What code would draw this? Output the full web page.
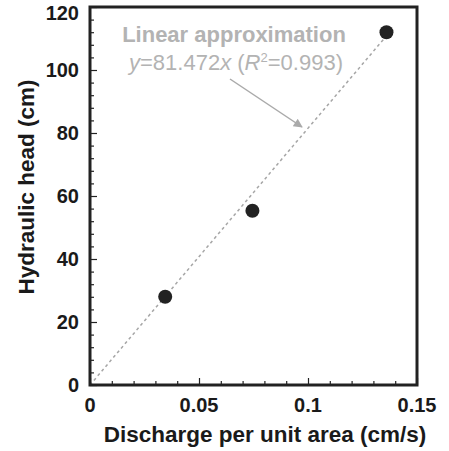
<!DOCTYPE html>
<html>
<head>
<meta charset="utf-8">
<script src="https://cdn.jsdelivr.net/npm/d3@7"></script>
<style>
  body { margin: 0; background: #fff; }
  svg { display: block; font-family: Arial, "Liberation Sans", sans-serif; }
</style>
</head>
<body>
<div id="chart"></div>
<script>
const width = 449;
const height = 451;
const margin = { top: 7, right: 32, bottom: 66, left: 90 };

const discharge = [0.0345, 0.0745, 0.136];
const head = [28, 55.3, 112];
// dotted guide as drawn in the picture (head per discharge, in plot units)
const fitSlope = 815;
const fitRange = [0, 0.1375];
const xTicks = [0, 0.05, 0.1, 0.15];
const yTicks = [0, 20, 40, 60, 80, 100, 120];
const fitTitle = "Linear approximation";

const xScale = d3
  .scaleLinear()
  .domain([0, 0.15])
  .range([margin.left, width - margin.right]);

const yScale = d3
  .scaleLinear()
  .domain([0, 120])
  .range([height - margin.bottom, margin.top]);

const svg = d3
  .select("#chart")
  .append("svg")
  .attr("width", width)
  .attr("height", height);

svg
  .append("defs")
  .append("marker")
  .attr("id", "arrow")
  .attr("viewBox", "0 0 10 10")
  .attr("refX", 9)
  .attr("refY", 5)
  .attr("markerWidth", 12)
  .attr("markerHeight", 9)
  .attr("markerUnits", "userSpaceOnUse")
  .attr("orient", "auto")
  .append("path")
  .attr("d", "M0,0 L10,5 L0,10 z")
  .attr("fill", "#aaa");

// minor + major ticks, pointing inward
const xAxis = d3
  .axisBottom(xScale)
  .tickValues(d3.range(0, 0.1501, 0.01))
  .tickSize(-4)
  .tickFormat("");
const yAxis = d3
  .axisLeft(yScale)
  .tickValues(d3.range(0, 120.1, 4))
  .tickSize(-4)
  .tickFormat("");

const gx = svg
  .append("g")
  .attr("transform", `translate(0,${height - margin.bottom})`)
  .call(xAxis);
const gy = svg
  .append("g")
  .attr("transform", `translate(${margin.left},0)`)
  .call(yAxis);

[gx, gy].forEach(g => {
  g.select(".domain").remove();
  g.selectAll("line").attr("stroke", "#222").attr("stroke-width", 1.2);
});
gx.selectAll(".tick line")
  .filter(d => Math.abs(d / 0.05 - Math.round(d / 0.05)) < 1e-6)
  .attr("y2", -7);
gy.selectAll(".tick line")
  .filter(d => d % 20 === 0)
  .attr("x2", 7);

svg
  .selectAll("text.xlabel")
  .data(xTicks)
  .enter()
  .append("text")
  .attr("class", "xlabel")
  .attr("x", d => xScale(d))
  .attr("y", 412)
  .attr("text-anchor", "middle")
  .style("font-size", "20px")
  .style("font-weight", "bold")
  .attr("fill", "#1a1a1a")
  .text(d => d3.format("~g")(d));

svg
  .selectAll("text.ylabel")
  .data(yTicks)
  .enter()
  .append("text")
  .attr("class", "ylabel")
  .attr("x", margin.left - 11)
  .attr("y", d => Math.max(yScale(d), 13))
  .attr("dy", "0.35em")
  .attr("text-anchor", "end")
  .style("font-size", "20px")
  .style("font-weight", "bold")
  .attr("fill", "#1a1a1a")
  .text(d => d);

// fit line
const line = d3
  .line()
  .x(d => xScale(d))
  .y(d => yScale(fitSlope * d));

svg
  .append("path")
  .datum(fitRange)
  .attr("d", line)
  .attr("fill", "none")
  .attr("stroke", "#a6a6a6")
  .attr("stroke-width", 1.5)
  .attr("stroke-dasharray", "3,3");

svg
  .selectAll("circle")
  .data(discharge)
  .enter()
  .append("circle")
  .attr("cx", d => xScale(d))
  .attr("cy", (d, i) => yScale(head[i]))
  .attr("r", 7)
  .attr("fill", "#222");

// frame
svg
  .append("rect")
  .attr("x", margin.left)
  .attr("y", margin.top)
  .attr("width", width - margin.left - margin.right)
  .attr("height", height - margin.top - margin.bottom)
  .attr("fill", "none")
  .attr("stroke", "#222")
  .attr("stroke-width", 3);

// annotation
svg
  .append("text")
  .attr("x", 234)
  .attr("y", 42)
  .attr("text-anchor", "middle")
  .style("font-size", "22px")
  .style("font-weight", "bold")
  .attr("fill", "#b3b3b3")
  .text(fitTitle);

const eq = svg
  .append("text")
  .attr("x", 236)
  .attr("y", 70)
  .attr("text-anchor", "middle")
  .style("font-size", "22px")
  .attr("fill", "#b3b3b3");
eq.append("tspan").style("font-style", "italic").text("y");
eq.append("tspan").text("=81.472");
eq.append("tspan").style("font-style", "italic").text("x");
eq.append("tspan").text(" (");
eq.append("tspan").style("font-style", "italic").text("R");
eq.append("tspan").attr("dy", -8).style("font-size", "13px").text("2");
eq.append("tspan").attr("dy", 8).text("=0.993)");

svg
  .append("line")
  .attr("x1", 230)
  .attr("y1", 79)
  .attr("x2", 302)
  .attr("y2", 127)
  .attr("stroke", "#aaa")
  .attr("stroke-width", 1.5)
  .attr("marker-end", "url(#arrow)");

// axis titles
svg
  .append("text")
  .attr("x", 265)
  .attr("y", 442)
  .attr("text-anchor", "middle")
  .style("font-size", "22.5px")
  .style("font-weight", "bold")
  .attr("fill", "#1a1a1a")
  .text("Discharge per unit area (cm/s)");

svg
  .append("text")
  .attr("transform", "translate(34,187) rotate(-90)")
  .attr("text-anchor", "middle")
  .style("font-size", "22.5px")
  .style("font-weight", "bold")
  .attr("fill", "#1a1a1a")
  .text("Hydraulic head (cm)");
</script>
</body>
</html>
